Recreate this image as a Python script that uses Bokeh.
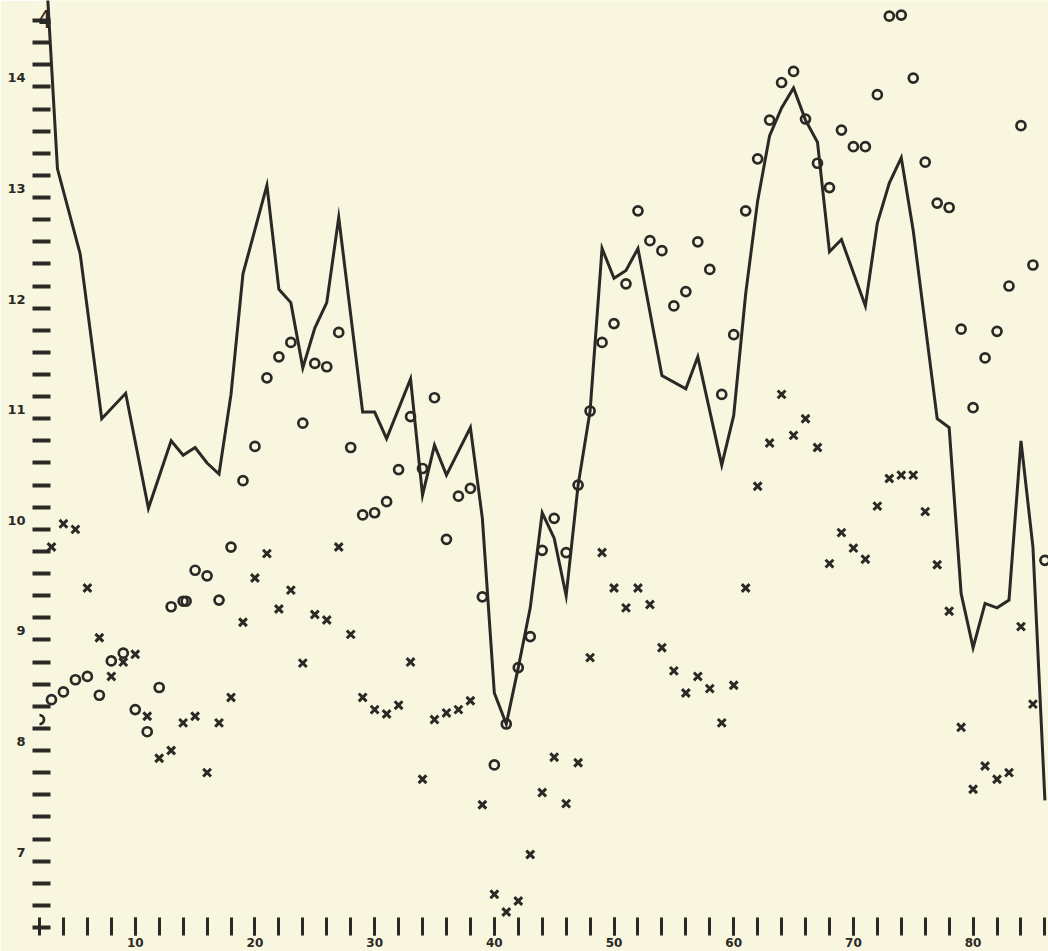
from bokeh.plotting import figure
from bokeh.models import FixedTicker, Range1d, LinearAxis, Label
from bokeh.embed import file_html
from bokeh.resources import INLINE

# ---- data ----
line_x = [2, 3.5, 5.4, 7.2, 9.2, 11.1, 13, 14, 15, 16, 17, 18, 19, 21, 22, 23, 24, 25, 26, 27,
          29, 30, 31, 33, 34, 35, 36, 38, 39, 40, 41, 42, 43, 44, 45, 46, 47, 48, 49, 50,
          51, 52, 54, 56, 57, 59, 60, 61, 62, 63, 64, 65, 66, 67, 68, 69, 71, 72, 73, 74,
          75, 77, 78, 79, 80, 81, 82, 83, 84, 85, 86]
line_y = [15.9, 13.06, 12.29, 10.80, 11.03, 9.99, 10.60, 10.47, 10.54, 10.40, 10.30, 11.02, 12.11,
          12.91, 11.97, 11.85, 11.26, 11.62, 11.85, 12.62, 10.86, 10.86, 10.62, 11.16, 10.11,
          10.56, 10.29, 10.72, 9.90, 8.32, 8.04, 8.55, 9.09, 9.95, 9.72, 9.20, 10.20, 10.87,
          12.34, 12.07, 12.14, 12.34, 11.19, 11.07, 11.36, 10.38, 10.83, 11.93, 12.77, 13.36,
          13.61, 13.79, 13.50, 13.30, 12.31, 12.42, 11.82, 12.57, 12.93, 13.16, 12.50, 10.80,
          10.72, 9.22, 8.73, 9.13, 9.09, 9.16, 10.60, 9.64, 7.35]

circ_x = [2, 3, 4, 5, 6, 7, 8, 9, 10, 11, 12, 13, 14, 14.25, 15, 16, 17, 18, 19, 20,
          21, 22, 23, 24, 25, 26, 27, 28, 29, 30, 31, 32, 33, 34, 35, 36, 37, 38, 39, 40,
          41, 42, 43, 44, 45, 46, 47, 48, 49, 50, 51, 52, 53, 54, 55, 56, 57, 58, 59, 60,
          61, 62, 63, 64, 65, 66, 67, 68, 69, 70, 71, 72, 73, 74, 75, 76, 77, 78, 79, 80,
          81, 82, 83, 84, 85, 86]
circ_y = [8.08, 8.26, 8.33, 8.44, 8.47, 8.30, 8.61, 8.68, 8.17, 7.97, 8.37, 9.10, 9.15, 9.15,
          9.43, 9.38, 9.16, 9.64, 10.24, 10.55, 11.17, 11.36, 11.49, 10.76, 11.30, 11.27,
          11.58, 10.54, 9.93, 9.95, 10.05, 10.34, 10.82, 10.35, 10.99, 9.71, 10.10, 10.17,
          9.19, 7.67, 8.04, 8.55, 8.83, 9.61, 9.90, 9.59, 10.20, 10.87, 11.49, 11.66, 12.02,
          12.68, 12.41, 12.32, 11.82, 11.95, 12.40, 12.15, 11.02, 11.56, 12.68, 13.15, 13.50,
          13.84, 13.94, 13.51, 13.11, 12.89, 13.41, 13.26, 13.26, 13.73, 14.44, 14.45, 13.88,
          13.12, 12.75, 12.71, 11.61, 10.90, 11.35, 11.59, 12.00, 13.45, 12.19, 9.52]

cross_x = [3, 4, 5, 6, 7, 8, 9, 10, 11, 12, 13, 14, 15, 16, 17, 18, 19, 20, 21, 22,
           23, 24, 25, 26, 27, 28, 29, 30, 31, 32, 33, 34, 35, 36, 37, 38, 39, 40, 41, 42,
           43, 44, 45, 46, 47, 48, 49, 50, 51, 52, 53, 54, 55, 56, 57, 58, 59, 60, 61, 62,
           63, 64, 65, 66, 67, 68, 69, 70, 71, 72, 73, 74, 75, 76, 77, 78, 79, 80, 81, 82,
           83, 84, 85]
cross_y = [9.64, 9.85, 9.80, 9.27, 8.82, 8.47, 8.60, 8.67, 8.11, 7.73, 7.80, 8.05, 8.11, 7.60,
           8.05, 8.28, 8.96, 9.36, 9.58, 9.08, 9.25, 8.59, 9.03, 8.98, 9.64, 8.85, 8.28, 8.17,
           8.13, 8.21, 8.60, 7.54, 8.08, 8.14, 8.17, 8.25, 7.31, 6.50, 6.34, 6.44, 6.86, 7.42,
           7.74, 7.32, 7.69, 8.64, 9.59, 9.27, 9.09, 9.27, 9.12, 8.73, 8.52, 8.32, 8.47, 8.36,
           8.05, 8.39, 9.27, 10.19, 10.58, 11.02, 10.65, 10.80, 10.54, 9.49, 9.77, 9.63, 9.53,
           10.01, 10.26, 10.29, 10.29, 9.96, 9.48, 9.06, 8.01, 7.45, 7.66, 7.54, 7.60, 8.92, 8.22]

x_tick_marks = list(range(2, 88, 2))
x_label_ticks = [10, 20, 30, 40, 50, 60, 70, 80]
y_tick_marks = [round(6.2 + 0.2 * i, 1) for i in range(42)]
y_label_ticks = [7, 8, 9, 10, 11, 12, 13, 14]

# ---- styling ----
BG = "#f9f6e0"
INK = "#2a2925"
PX_PER_UNIT_Y = 110.6
LABEL_DROP = 13 / PX_PER_UNIT_Y      # tick numbers sit a little below their tick

y0 = 6.2
y1 = y0 + 927 / PX_PER_UNIT_Y

p = figure(width=1048, height=951, output_backend="svg", toolbar_location=None,
           x_range=Range1d(2, 86.3), y_range=Range1d(y0, y1),
           min_border_left=39, min_border_right=0, min_border_top=0, min_border_bottom=24)
p.background_fill_color = BG
p.border_fill_color = BG
p.outline_line_color = None
p.xgrid.visible = False
p.ygrid.visible = False

# x axis: marks every 2, numbers every 10
xa = p.xaxis[0]
xa.ticker = FixedTicker(ticks=x_label_ticks, minor_ticks=x_tick_marks)
xa.axis_line_color = None
for pre in ("major", "minor"):
    setattr(xa, pre + "_tick_line_color", INK)
    setattr(xa, pre + "_tick_line_width", 3)
    setattr(xa, pre + "_tick_in", 10)
    setattr(xa, pre + "_tick_out", 8)
xa.major_label_standoff = 2
xa.major_label_text_font = "DejaVu Sans"
xa.major_label_text_font_style = "bold"
xa.major_label_text_font_size = "12px"
xa.major_label_text_color = INK

# y axis: dash marks every 0.2
ya = p.yaxis[0]
ya.ticker = FixedTicker(ticks=[], minor_ticks=y_tick_marks)
ya.axis_line_color = None
ya.minor_tick_line_color = INK
ya.minor_tick_line_width = 4
ya.minor_tick_in = 11
ya.minor_tick_out = 7
ya.major_tick_line_color = None

# y numbers, printed slightly below their tick
p.extra_y_ranges = {"labels": Range1d(y0 + LABEL_DROP, y1 + LABEL_DROP)}
la = LinearAxis(y_range_name="labels", ticker=FixedTicker(ticks=y_label_ticks))
la.axis_line_color = None
la.major_tick_line_color = None
la.minor_tick_line_color = None
la.major_tick_in = 0
la.major_tick_out = 0
la.major_label_standoff = 7
la.major_label_text_font = "DejaVu Sans"
la.major_label_text_font_style = "bold"
la.major_label_text_font_size = "13px"
la.major_label_text_color = INK
p.add_layout(la, "left")

# hand-drawn arrow-like mark at the top of the vertical scale
p.add_layout(Label(x=2.4, y=14.41, text="4", text_align="center", text_baseline="middle",
                   text_font="DejaVu Sans", text_font_size="24px", text_color=INK))

p.line(line_x, line_y, line_color=INK, line_width=3, line_join="miter")
p.scatter(circ_x, circ_y, marker="circle", size=9, fill_color=None,
          line_color=INK, line_width=2.7)
p.scatter(cross_x, cross_y, marker="x", size=11, line_color=INK, line_width=3)

open("out.html", "w").write(file_html(p, INLINE))
